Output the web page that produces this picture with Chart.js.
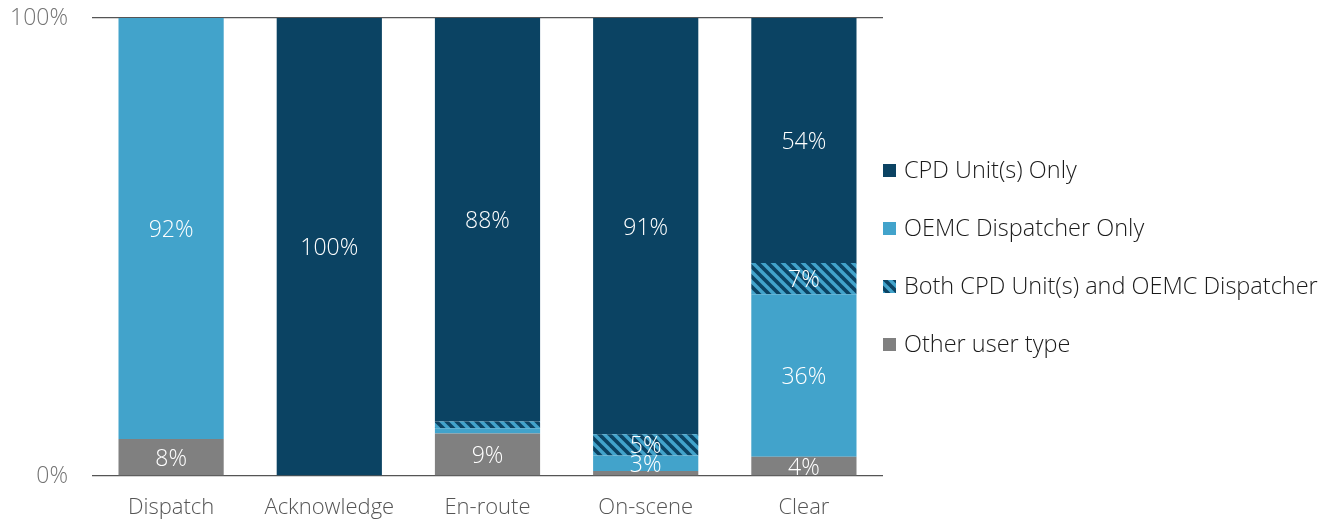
<!DOCTYPE html>
<html>
<head>
<meta charset="utf-8">
<script src="https://cdn.jsdelivr.net/npm/chart.js@4/dist/chart.umd.min.js"></script>
<style>
  html, body { margin: 0; padding: 0; background: #fff; }
  #wrap { position: relative; width: 1338px; height: 521px; }
</style>
</head>
<body>
<div id="wrap"><canvas id="chart"></canvas></div>
<script>
// categories and series (percent of events, bottom to top of each bar)
const categories = ['Dispatch', 'Acknowledge', 'En-route', 'On-scene', 'Clear'];
const otherUser = [8.1, 0, 9.3, 1.1, 4.2];
const oemcOnly = [91.9, 0, 1.1, 3.4, 35.5];
const bothUnits = [0, 0, 1.5, 4.6, 6.8];
const cpdOnly = [0, 100, 88.1, 90.9, 53.5];
const yTicks = [0, 100];
// legend order as shown beside the chart (dataset indexes)
const legendOrder = [3, 1, 2, 0];

const NAVY = '#0B4363';
const BLUE = '#42A3CB';
const GREY = '#808080';
const FONT = '"Open Sans", Roboto, sans-serif';

// diagonal hatch for the "both" series
const makeHatch = () => {
  const c = document.createElement('canvas');
  c.width = 10; c.height = 10;
  const g = c.getContext('2d');
  g.fillStyle = NAVY;
  g.fillRect(0, 0, 10, 10);
  g.strokeStyle = BLUE;
  g.lineWidth = 3.4;
  [-10, 0, 10].forEach(off => {
    g.beginPath();
    g.moveTo(off - 2, -2);
    g.lineTo(off + 12, 12);
    g.stroke();
  });
  return g.createPattern(c, 'repeat');
};
const hatch = makeHatch();

// white value labels inside segments
const segmentLabels = {
  id: 'segmentLabels',
  afterDatasetsDraw(chart) {
    const ctx = chart.ctx;
    ctx.save();
    ctx.font = '300 23px ' + FONT;
    ctx.fillStyle = '#fff';
    ctx.textAlign = 'center';
    ctx.textBaseline = 'middle';
    chart.data.datasets.forEach((ds, i) => {
      chart.getDatasetMeta(i).data.forEach((bar, j) => {
        const v = ds.data[j];
        if (v < 3) return;
        const p = bar.getProps(['x', 'y', 'base'], true);
        ctx.fillText(Math.round(v) + '%', p.x, (p.y + p.base) / 2 + 2);
      });
    });
    ctx.restore();
  }
};

// legend on the right
const sideLegend = {
  id: 'sideLegend',
  afterDraw(chart) {
    const ctx = chart.ctx;
    const x = chart.chartArea.right;
    ctx.save();
    ctx.font = '300 23.5px ' + FONT;
    ctx.textBaseline = 'middle';
    legendOrder.forEach((idx, i) => {
      const ds = chart.data.datasets[idx];
      const cy = 170 + i * 58;
      ctx.fillStyle = ds.backgroundColor;
      ctx.fillRect(x, cy - 6, 13, 13);
      ctx.fillStyle = '#1a1a1a';
      ctx.fillText(ds.label, x + 21, cy + 1);
    });
    ctx.restore();
  }
};

new Chart(document.getElementById('chart'), {
  type: 'bar',
  data: {
    labels: categories,
    datasets: [
      { label: 'Other user type', data: otherUser, backgroundColor: GREY },
      { label: 'OEMC Dispatcher Only', data: oemcOnly, backgroundColor: BLUE },
      { label: 'Both CPD Unit(s) and OEMC Dispatcher', data: bothUnits, backgroundColor: hatch },
      { label: 'CPD Unit(s) Only', data: cpdOnly, backgroundColor: NAVY }
    ]
  },
  options: {
    responsive: true,
    maintainAspectRatio: false,
    animation: false,
    layout: { padding: { left: 11, right: 455, top: 18, bottom: 0 } },
    datasets: { bar: { categoryPercentage: 1, barPercentage: 0.665, borderWidth: 0 } },
    plugins: {
      legend: { display: false },
      tooltip: { enabled: false }
    },
    scales: {
      x: {
        stacked: true,
        grid: { display: false, drawTicks: false },
        border: { display: false },
        afterFit: axis => { axis.height = 45; axis.paddingLeft = 0; axis.paddingRight = 0; },
        ticks: { color: '#555', padding: 19, font: { family: FONT, size: 22, weight: 300 } }
      },
      y: {
        stacked: true,
        min: 0,
        max: 100,
        afterBuildTicks: axis => { axis.ticks = yTicks.map(v => ({ value: v })); },
        afterFit: axis => { axis.width = 81; axis.paddingTop = 0; axis.paddingBottom = 0; },
        grid: { color: '#555', lineWidth: 1.3, drawTicks: false },
        border: { display: false },
        ticks: {
          color: '#737373',
          padding: 24,
          font: { family: FONT, size: 23, weight: 300 },
          callback: v => v + '%'
        }
      }
    }
  },
  plugins: [segmentLabels, sideLegend]
});
</script>
</body>
</html>
